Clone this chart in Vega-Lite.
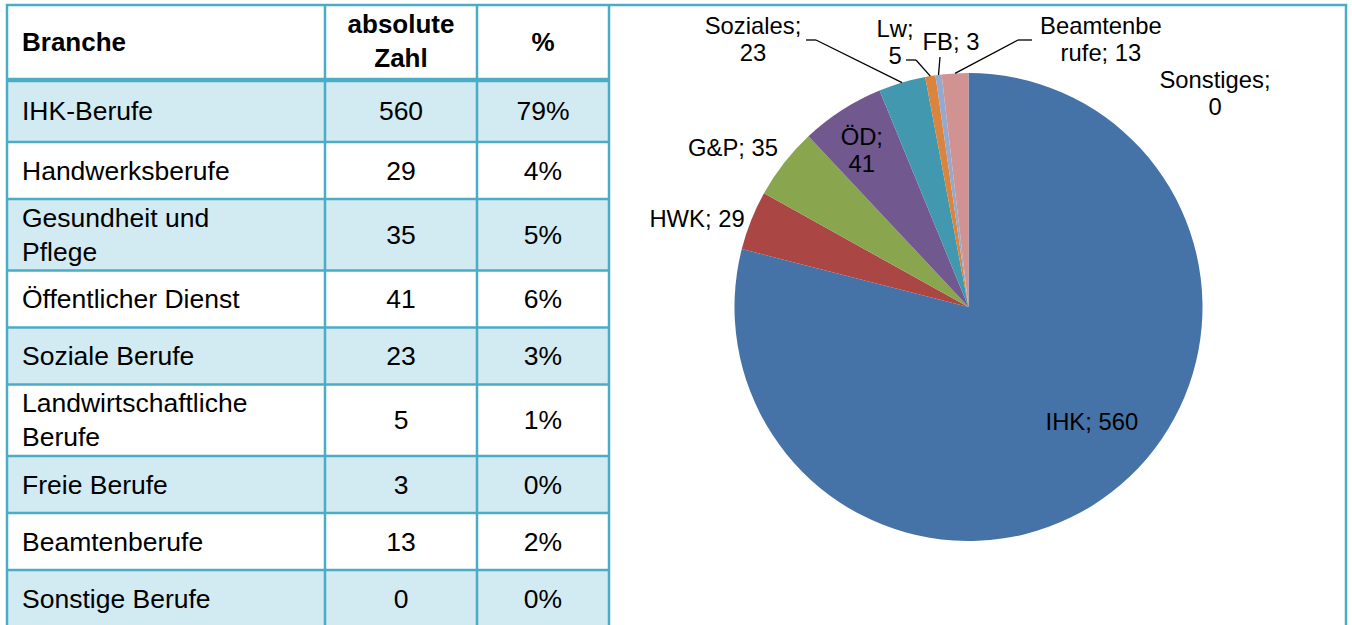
{
  "$schema": "https://vega.github.io/schema/vega-lite/v6.json",
  "width": 1352,
  "height": 625,
  "autosize": {"type": "fit", "contains": "padding"},
  "padding": 0,
  "background": "white",
  "config": {"view": {"stroke": null}, "text": {"font": "Liberation Sans"}},
  "datasets": {
    "berufe": [
      {"Branche": "IHK-Berufe", "Kurz": "IHK", "Zahl": 560, "Prozent": 79},
      {"Branche": "Handwerksberufe", "Kurz": "HWK", "Zahl": 29, "Prozent": 4},
      {"Branche": "Gesundheit und Pflege", "Kurz": "G&P", "Zahl": 35, "Prozent": 5},
      {"Branche": "Öffentlicher Dienst", "Kurz": "ÖD", "Zahl": 41, "Prozent": 6},
      {"Branche": "Soziale Berufe", "Kurz": "Soziales", "Zahl": 23, "Prozent": 3},
      {"Branche": "Landwirtschaftliche Berufe", "Kurz": "Lw", "Zahl": 5, "Prozent": 1},
      {"Branche": "Freie Berufe", "Kurz": "FB", "Zahl": 3, "Prozent": 0},
      {"Branche": "Beamtenberufe", "Kurz": "Beamtenberufe", "Zahl": 13, "Prozent": 2},
      {"Branche": "Sonstige Berufe", "Kurz": "Sonstiges", "Zahl": 0, "Prozent": 0}
    ],
    "kopf": [{"Spalte": "Branche"}, {"Spalte": "absolute Zahl"}, {"Spalte": "%"}]
  },
  "layer": [
    {
      "data": {"name": "berufe"},
      "transform": [
        {"window": [{"op": "row_number", "as": "nr"}]},
        {"calculate": "length(datum.Branche) > 20 ? 2 : 1", "as": "zeilen"},
        {"calculate": "datum.nr == 1 ? 62 : (datum.zeilen == 2 ? 71.5 : 57)", "as": "hoehe"},
        {"window": [{"op": "sum", "field": "hoehe", "as": "kum"}], "sort": [{"field": "nr", "order": "ascending"}], "frame": [null, 0]},
        {"calculate": "min(80 + datum.kum, 625)", "as": "y1"},
        {"calculate": "80 + datum.kum - datum.hoehe", "as": "y0"},
        {"filter": "datum.nr % 2 == 1"}
      ],
      "mark": {"type": "rect", "color": "#D2EAF1", "clip": true},
      "encoding": {
        "x": {"datum": 7, "type": "quantitative", "scale": {"domain": [0, 1352], "nice": false, "zero": false}, "axis": null},
        "x2": {"datum": 609},
        "y": {"field": "y0", "type": "quantitative", "scale": {"domain": [0, 625], "nice": false, "zero": false, "reverse": true}, "axis": null},
        "y2": {"field": "y1"}
      }
    },
    {
      "data": {"name": "berufe"},
      "transform": [
        {"window": [{"op": "row_number", "as": "nr"}]},
        {"calculate": "length(datum.Branche) > 20 ? 2 : 1", "as": "zeilen"},
        {"calculate": "datum.nr == 1 ? 62 : (datum.zeilen == 2 ? 71.5 : 57)", "as": "hoehe"},
        {"window": [{"op": "sum", "field": "hoehe", "as": "kum"}], "sort": [{"field": "nr", "order": "ascending"}], "frame": [null, 0]},
        {"calculate": "80 + datum.kum - datum.hoehe", "as": "y0"}
      ],
      "mark": {"type": "rule", "color": "#4BACC6", "clip": true},
      "encoding": {
        "x": {"datum": 7, "type": "quantitative", "scale": {"domain": [0, 1352], "nice": false, "zero": false}, "axis": null},
        "x2": {"datum": 609},
        "y": {"field": "y0", "type": "quantitative", "scale": {"domain": [0, 625], "nice": false, "zero": false, "reverse": true}, "axis": null},
        "strokeWidth": {"condition": {"test": "datum.nr == 1", "value": 4.5}, "value": 2.5}
      }
    },
    {
      "data": {"values": [{}]},
      "mark": {"type": "rect", "filled": false, "stroke": "#4BACC6", "strokeWidth": 2.5, "clip": true},
      "encoding": {
        "x": {"datum": 7, "type": "quantitative", "scale": {"domain": [0, 1352], "nice": false, "zero": false}, "axis": null},
        "x2": {"datum": 1346},
        "y": {"datum": 5, "type": "quantitative", "scale": {"domain": [0, 625], "nice": false, "zero": false, "reverse": true}, "axis": null},
        "y2": {"datum": 660}
      }
    },
    {
      "data": {"values": [{}]},
      "mark": {"type": "rule", "color": "#4BACC6", "strokeWidth": 2.5, "clip": true},
      "encoding": {
        "x": {"datum": 325, "type": "quantitative", "scale": {"domain": [0, 1352], "nice": false, "zero": false}, "axis": null},
        "y": {"datum": 5, "type": "quantitative", "scale": {"domain": [0, 625], "nice": false, "zero": false, "reverse": true}, "axis": null},
        "y2": {"datum": 625}
      }
    },
    {
      "data": {"values": [{}]},
      "mark": {"type": "rule", "color": "#4BACC6", "strokeWidth": 2.5, "clip": true},
      "encoding": {
        "x": {"datum": 477, "type": "quantitative", "scale": {"domain": [0, 1352], "nice": false, "zero": false}, "axis": null},
        "y": {"datum": 5, "type": "quantitative", "scale": {"domain": [0, 625], "nice": false, "zero": false, "reverse": true}, "axis": null},
        "y2": {"datum": 625}
      }
    },
    {
      "data": {"values": [{}]},
      "mark": {"type": "rule", "color": "#4BACC6", "strokeWidth": 2.5, "clip": true},
      "encoding": {
        "x": {"datum": 609, "type": "quantitative", "scale": {"domain": [0, 1352], "nice": false, "zero": false}, "axis": null},
        "y": {"datum": 5, "type": "quantitative", "scale": {"domain": [0, 625], "nice": false, "zero": false, "reverse": true}, "axis": null},
        "y2": {"datum": 625}
      }
    },
    {
      "data": {"name": "berufe"},
      "transform": [
        {"window": [{"op": "row_number", "as": "nr"}]},
        {"calculate": "length(datum.Branche) > 20 ? 2 : 1", "as": "zeilen"},
        {"calculate": "datum.nr == 1 ? 62 : (datum.zeilen == 2 ? 71.5 : 57)", "as": "hoehe"},
        {"window": [{"op": "sum", "field": "hoehe", "as": "kum"}], "sort": [{"field": "nr", "order": "ascending"}], "frame": [null, 0]},
        {"calculate": "81 + datum.kum - datum.hoehe / 2 - (datum.zeilen - 1) * 17", "as": "ym"},
        {"calculate": "datum.zeilen == 2 ? [substring(datum.Branche, 0, lastindexof(datum.Branche, ' ')), substring(datum.Branche, lastindexof(datum.Branche, ' ') + 1)] : datum.Branche", "as": "zeile_text"}
      ],
      "mark": {"type": "text", "align": "left", "baseline": "middle", "fontSize": 26.5, "lineHeight": 34, "font": "Liberation Sans", "color": "#000000"},
      "encoding": {
        "x": {"datum": 22, "type": "quantitative", "scale": {"domain": [0, 1352], "nice": false, "zero": false}, "axis": null},
        "y": {"field": "ym", "type": "quantitative", "scale": {"domain": [0, 625], "nice": false, "zero": false, "reverse": true}, "axis": null},
        "text": {"field": "zeile_text", "type": "nominal"}
      }
    },
    {
      "data": {"name": "berufe"},
      "transform": [
        {"window": [{"op": "row_number", "as": "nr"}]},
        {"calculate": "length(datum.Branche) > 20 ? 2 : 1", "as": "zeilen"},
        {"calculate": "datum.nr == 1 ? 62 : (datum.zeilen == 2 ? 71.5 : 57)", "as": "hoehe"},
        {"window": [{"op": "sum", "field": "hoehe", "as": "kum"}], "sort": [{"field": "nr", "order": "ascending"}], "frame": [null, 0]},
        {"calculate": "81 + datum.kum - datum.hoehe / 2", "as": "ym"}
      ],
      "mark": {"type": "text", "align": "center", "baseline": "middle", "fontSize": 26.5, "font": "Liberation Sans", "color": "#000000"},
      "encoding": {
        "x": {"datum": 401, "type": "quantitative", "scale": {"domain": [0, 1352], "nice": false, "zero": false}, "axis": null},
        "y": {"field": "ym", "type": "quantitative", "scale": {"domain": [0, 625], "nice": false, "zero": false, "reverse": true}, "axis": null},
        "text": {"field": "Zahl", "type": "quantitative"}
      }
    },
    {
      "data": {"name": "berufe"},
      "transform": [
        {"window": [{"op": "row_number", "as": "nr"}]},
        {"calculate": "length(datum.Branche) > 20 ? 2 : 1", "as": "zeilen"},
        {"calculate": "datum.nr == 1 ? 62 : (datum.zeilen == 2 ? 71.5 : 57)", "as": "hoehe"},
        {"window": [{"op": "sum", "field": "hoehe", "as": "kum"}], "sort": [{"field": "nr", "order": "ascending"}], "frame": [null, 0]},
        {"calculate": "81 + datum.kum - datum.hoehe / 2", "as": "ym"},
        {"calculate": "datum.Prozent + '%'", "as": "pct"}
      ],
      "mark": {"type": "text", "align": "center", "baseline": "middle", "fontSize": 26.5, "font": "Liberation Sans", "color": "#000000"},
      "encoding": {
        "x": {"datum": 543, "type": "quantitative", "scale": {"domain": [0, 1352], "nice": false, "zero": false}, "axis": null},
        "y": {"field": "ym", "type": "quantitative", "scale": {"domain": [0, 625], "nice": false, "zero": false, "reverse": true}, "axis": null},
        "text": {"field": "pct", "type": "nominal"}
      }
    },
    {
      "data": {"name": "kopf"},
      "transform": [{"filter": "datum.Spalte == 'Branche'"}],
      "mark": {"type": "text", "align": "left", "baseline": "middle", "fontSize": 26, "fontWeight": "bold", "font": "Liberation Sans", "color": "#000000"},
      "encoding": {
        "x": {"datum": 22, "type": "quantitative", "scale": {"domain": [0, 1352], "nice": false, "zero": false}, "axis": null},
        "y": {"datum": 42.5, "type": "quantitative", "scale": {"domain": [0, 625], "nice": false, "zero": false, "reverse": true}, "axis": null},
        "text": {"field": "Spalte", "type": "nominal"}
      }
    },
    {
      "data": {"name": "kopf"},
      "transform": [
        {"filter": "datum.Spalte != 'Branche'"},
        {"calculate": "datum.Spalte == '%' ? 543 : 401", "as": "sx"},
        {"calculate": "datum.Spalte == '%' ? 42.5 : 25", "as": "sy"}
      ],
      "mark": {"type": "text", "align": "center", "baseline": "middle", "fontSize": 26, "fontWeight": "bold", "lineBreak": " ", "lineHeight": 34, "font": "Liberation Sans", "color": "#000000"},
      "encoding": {
        "x": {"field": "sx", "type": "quantitative", "scale": {"domain": [0, 1352], "nice": false, "zero": false}, "axis": null},
        "y": {"field": "sy", "type": "quantitative", "scale": {"domain": [0, 625], "nice": false, "zero": false, "reverse": true}, "axis": null},
        "text": {"field": "Spalte", "type": "nominal"}
      }
    },
    {
      "data": {"name": "berufe"},
      "transform": [{"window": [{"op": "row_number", "as": "nr"}]}],
      "mark": {"type": "arc", "outerRadius": 234},
      "encoding": {
        "x": {"datum": 968.5, "type": "quantitative", "scale": {"domain": [0, 1352], "nice": false, "zero": false}, "axis": null},
        "y": {"datum": 307, "type": "quantitative", "scale": {"domain": [0, 625], "nice": false, "zero": false, "reverse": true}, "axis": null},
        "theta": {"field": "Zahl", "type": "quantitative", "stack": true},
        "order": {"field": "nr", "type": "quantitative"},
        "color": {
          "field": "Kurz",
          "type": "nominal",
          "legend": null,
          "scale": {
            "domain": ["IHK", "HWK", "G&P", "ÖD", "Soziales", "Lw", "FB", "Beamtenberufe", "Sonstiges"],
            "range": ["#4572A7", "#AA4643", "#89A54E", "#71588F", "#4198AF", "#DB843D", "#93A9CF", "#D19392", "#B9CDE5"]
          }
        }
      }
    },
    {
      "data": {"name": "berufe"},
      "transform": [
        {"window": [{"op": "row_number", "as": "nr"}]},
        {"joinaggregate": [{"op": "sum", "field": "Zahl", "as": "gesamt"}]},
        {"window": [{"op": "sum", "field": "Zahl", "as": "kum"}], "sort": [{"field": "nr", "order": "ascending"}], "frame": [null, 0]},
        {"calculate": "(datum.kum - datum.Zahl / 2) / datum.gesamt * 2 * PI", "as": "mitte"},
        {"calculate": "indexof(['IHK', 'ÖD'], datum.Kurz) >= 0 ? 175 : 270", "as": "r"},
        {"calculate": "{'IHK': [16, -22], 'HWK': [-20.6, 13], 'G&P': [-22.6, 8.5], 'ÖD': [-12, -8], 'Soziales': [-138.8, -7.6], 'Lw': [-29.4, 2.9], 'FB': [17.1, 3.5], 'Beamtenberufe': [148, 3], 'Sonstiges': [246.5, 57]}[datum.Kurz]", "as": "versatz"},
        {"calculate": "datum.Kurz == 'Beamtenberufe' ? ['Beamtenbe', 'rufe; ' + datum.Zahl] : (indexof(['ÖD', 'Soziales', 'Lw', 'Sonstiges'], datum.Kurz) >= 0 ? [datum.Kurz + ';', '' + datum.Zahl] : datum.Kurz + '; ' + datum.Zahl)", "as": "beschriftung"},
        {"calculate": "968.5 + datum.r * sin(datum.mitte) + datum.versatz[0]", "as": "lx"},
        {"calculate": "307 - datum.r * cos(datum.mitte) + datum.versatz[1] - (isArray(datum.beschriftung) ? 13.5 : 0)", "as": "ly"}
      ],
      "mark": {"type": "text", "align": "center", "baseline": "middle", "fontSize": 23.8, "lineHeight": 27, "font": "Liberation Sans", "color": "#000000"},
      "encoding": {
        "x": {"field": "lx", "type": "quantitative", "scale": {"domain": [0, 1352], "nice": false, "zero": false}, "axis": null},
        "y": {"field": "ly", "type": "quantitative", "scale": {"domain": [0, 625], "nice": false, "zero": false, "reverse": true}, "axis": null},
        "text": {"field": "beschriftung", "type": "nominal"}
      }
    },
    {
      "data": {"name": "berufe"},
      "transform": [
        {"window": [{"op": "row_number", "as": "nr"}]},
        {"joinaggregate": [{"op": "sum", "field": "Zahl", "as": "gesamt"}]},
        {"window": [{"op": "sum", "field": "Zahl", "as": "kum"}], "sort": [{"field": "nr", "order": "ascending"}], "frame": [null, 0]},
        {"calculate": "(datum.kum - datum.Zahl / 2) / datum.gesamt * 2 * PI", "as": "mitte"},
        {"calculate": "{'Soziales': [816, 40, 806], 'Lw': [916, 60, 906], 'FB': [940, 57, 940], 'Beamtenberufe': [1018, 40, 1032]}[datum.Kurz]", "as": "knick"},
        {"filter": "isValid(datum.knick)"},
        {"calculate": "968.5 + 234 * sin(datum.mitte)", "as": "ex"},
        {"calculate": "307 - 234 * cos(datum.mitte)", "as": "ey"},
        {"calculate": "datum.knick[0]", "as": "kx"},
        {"calculate": "datum.knick[1]", "as": "ky"}
      ],
      "mark": {"type": "rule", "color": "#000000", "strokeWidth": 1.3},
      "encoding": {
        "x": {"field": "ex", "type": "quantitative", "scale": {"domain": [0, 1352], "nice": false, "zero": false}, "axis": null},
        "y": {"field": "ey", "type": "quantitative", "scale": {"domain": [0, 625], "nice": false, "zero": false, "reverse": true}, "axis": null},
        "x2": {"field": "kx"},
        "y2": {"field": "ky"}
      }
    },
    {
      "data": {"name": "berufe"},
      "transform": [
        {"calculate": "{'Soziales': [816, 40, 806], 'Lw': [916, 60, 906], 'Beamtenberufe': [1018, 40, 1032]}[datum.Kurz]", "as": "knick"},
        {"filter": "isValid(datum.knick)"},
        {"calculate": "datum.knick[0]", "as": "kx"},
        {"calculate": "datum.knick[1]", "as": "ky"},
        {"calculate": "datum.knick[2]", "as": "kx2"}
      ],
      "mark": {"type": "rule", "color": "#000000", "strokeWidth": 1.3},
      "encoding": {
        "x": {"field": "kx", "type": "quantitative", "scale": {"domain": [0, 1352], "nice": false, "zero": false}, "axis": null},
        "y": {"field": "ky", "type": "quantitative", "scale": {"domain": [0, 625], "nice": false, "zero": false, "reverse": true}, "axis": null},
        "x2": {"field": "kx2"}
      }
    }
  ]
}
